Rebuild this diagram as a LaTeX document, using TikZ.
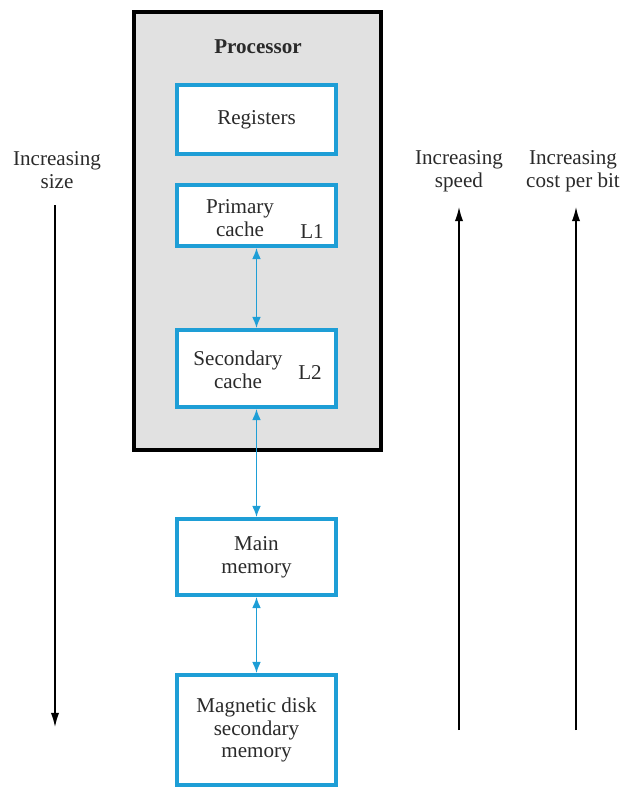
\documentclass[tikz,border=0pt]{standalone}
\usepackage{fontspec}
\setmainfont{Liberation Serif}
\usetikzlibrary{arrows.meta}

\definecolor{cacheblue}{HTML}{1E9ED6}
\definecolor{procgray}{HTML}{E1E1E1}
\definecolor{txtgray}{HTML}{2A2A2A}

\begin{document}
\begin{tikzpicture}[x = 0.03cm, y = -0.03cm,
    font = \fontsize{18}{19.5}\selectfont,
    memblock/.style = {draw = cacheblue, line width = 3.4pt, fill = white,
        minimum width = 4.77cm, inner sep = 0pt},
    memtext/.style = {align = center, text = txtgray},
    link/.style = {cacheblue, line width = 1.2pt,
        {Latex[length = 9.5pt, width = 7.5pt]}-{Latex[length = 9.5pt, width = 7.5pt]}},
    trend/.style = {black, line width = 1.1pt, -{Latex[length = 12pt, width = 7pt]}}]

    \useasboundingbox (0,0) rectangle (626,789);

    % Processore
    \node[draw = black, line width = 3.4pt, fill = procgray,
        minimum width = 7.41cm, minimum height = 13.14cm] (proc) at (257.5,231) {};
    \node[memtext, font = \fontsize{18}{19.5}\selectfont\bfseries] (proclabel) at (258,47) {Processor};

    % Blocchi di memoria
    \node[memblock, minimum height = 2.07cm] (reg) at (256.5,119.5) {};
    \node[memblock, minimum height = 1.83cm] (pc) at (256.5,215.5) {};
    \node[memblock, minimum height = 2.31cm] (sc) at (256.5,368.5) {};
    \node[memblock, minimum height = 2.28cm] (mm) at (256.5,557) {};
    \node[memblock, minimum height = 3.30cm] (disk) at (256.5,730) {};

    % Testi dei blocchi
    \node[memtext] (regtext) at (reg) {Registers};
    \node[memtext] (pctext) at (240,218) {Primary\\cache};
    \node[memtext] (pclevel) at (312,232) {L1};
    \node[memtext] (sctext) at (238,370) {Secondary\\cache};
    \node[memtext] (sclevel) at (310,373) {L2};
    \node[memtext] (mmtext) at (mm) {Main\\memory};
    \node[memtext] (disktext) at (disk) {Magnetic disk\\secondary\\memory};

    % Collegamenti
    \draw[link] (pc.south) -- (sc.north);
    \draw[link] (sc.south) -- (mm.north);
    \draw[link] (mm.south) -- (disk.north);

    % Frecce laterali
    \node[memtext] (sizecap) at (57,170) {Increasing\\size};
    \node[memtext] (speedcap) at (459,171) {Increasing\\speed};
    \node[memtext] (costcap) at (573,171) {Increasing\\cost per bit};

    \coordinate (sizetop) at (55,205);
    \coordinate (sizebot) at (55,727);
    \coordinate (speedbot) at (459,730);
    \coordinate (speedtop) at (459,207);
    \coordinate (costbot) at (576,730);
    \coordinate (costtop) at (576,207);

    \draw[trend] (sizetop) -- (sizebot);
    \draw[trend] (speedbot) -- (speedtop);
    \draw[trend] (costbot) -- (costtop);

\end{tikzpicture}
\end{document}
